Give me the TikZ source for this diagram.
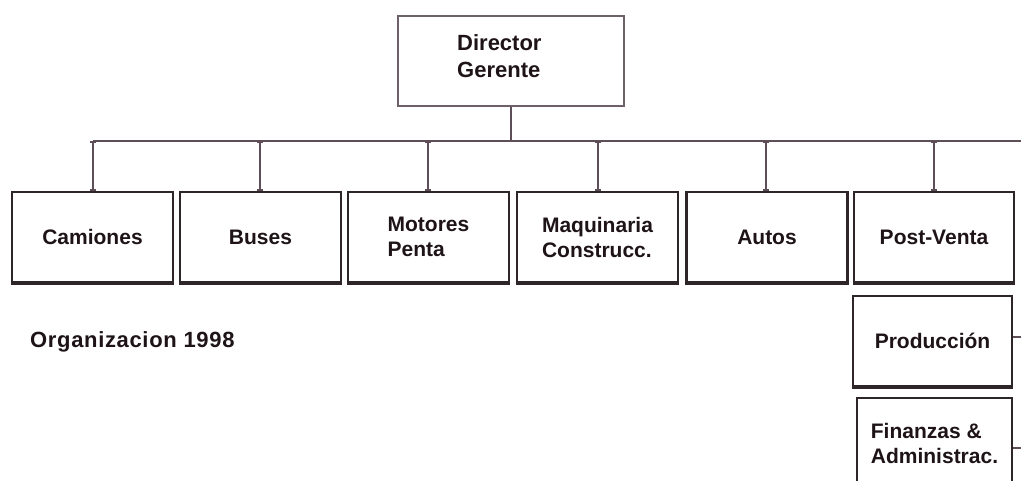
\documentclass[tikz,border=0pt]{standalone}
\usepackage{fontspec}
\setmainfont{Liberation Sans}
\newfontfamily\spacedfont[LetterSpace=3]{Liberation Sans}
\usetikzlibrary{arrows.meta}
\definecolor{ink}{HTML}{1E1418}
\definecolor{boxline}{HTML}{2E2529}
\definecolor{dirline}{HTML}{6E6068}
\definecolor{wire}{HTML}{5E4E58}
\tikzset{
  unit/.style={draw=boxline, line width=2.2pt, fill=white, text=ink,
    minimum width=161pt, minimum height=90pt, inner sep=0pt,
    font=\fontsize{21}{25}\selectfont\bfseries, align=left},
  headbox/.style={draw=dirline, line width=2pt, fill=white,
    minimum width=226pt, minimum height=90pt, inner sep=0pt},
  headtext/.style={text=ink, inner sep=0pt, align=left,
    font=\fontsize{22}{27}\selectfont\bfseries},
  base/.style={draw=boxline, line width=3.2pt},
  link/.style={draw=wire, line width=1.8pt},
  drop/.style={link, {Bar[width=6pt,length=0pt]}-{Bar[width=6pt,length=0pt]}},
  caption/.style={text=ink, font=\fontsize{22}{25}\selectfont\spacedfont\bfseries, inner sep=0pt}
}
\begin{document}
\begin{tikzpicture}[x=1pt, y=-1pt]
  \useasboundingbox (0,0) rectangle (1021,481);
  \clip (0,0) rectangle (1021,481);

  % top of the organisation
  \node[headbox] (dir) at (511,61) {};
  \node[headtext, anchor=west] (dirtext) at (457,56) {Director\\Gerente};

  % business units
  \node[unit] (cam) at (92.5,237) {Camiones};
  \node[unit] (bus) at (260.5,237) {Buses};
  \node[unit] (mot) at (428.5,237) {Motores\\Penta};
  \node[unit] (maq) at (597.5,237) {Maquinaria\\Construcc.};
  \node[unit] (aut) at (767,237) {Autos};
  \node[unit, minimum width=160pt] (pv) at (934,237) {Post-Venta};

  % support areas
  \node[unit, minimum width=159pt] (prod) at (932.5,341) {Producción};
  \node[unit, minimum width=155pt] (fin) at (934.5,443) {Finanzas \&\\Administrac.};

  % heavier lower edges of the unit boxes
  \foreach \n in {cam, bus, mot, maq, aut, pv, prod}
    \draw[base] (\n.south west) -- (\n.south east);

  \node[caption, anchor=west] (org) at (30,342) {Organizacion 1998};

  % distribution line
  \coordinate (busL) at (93,141);
  \coordinate (busR) at (1021,141);
  \coordinate (prodR) at (1021,337);
  \coordinate (finR) at (1021,448);

  \draw[link] (dir.south) -- (dir.south |- busL);
  \draw[link] (busL) -- (busR);
  \foreach \n/\x in {cam/93, bus/260, mot/428, maq/598, aut/766, pv/934}
    \draw[drop] (\x,141) -- (\n.north -| {(\x,0)});
  \draw[link] (prod.east |- prodR) -- (prodR);
  \draw[link] (fin.east |- finR) -- (finR);
\end{tikzpicture}
\end{document}
